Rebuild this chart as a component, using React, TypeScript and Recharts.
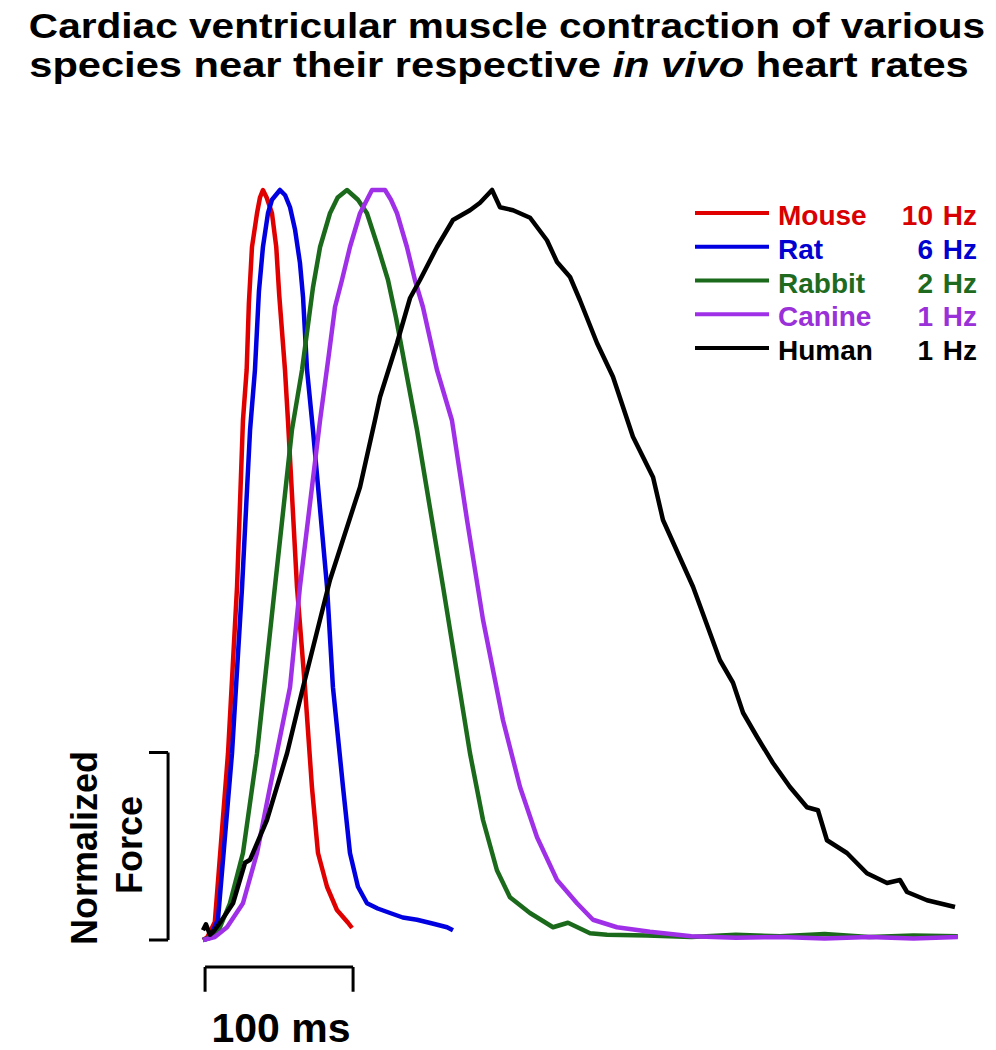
import React from "react";
import { LineChart, Line, XAxis, YAxis, ReferenceLine } from "recharts";

// time in ms from stimulus, force normalized to peak
const mouse = [
  { t: 0, f: 0 }, { t: 3, f: 0.004 }, { t: 8, f: 0.024 }, { t: 16.9, f: 0.249 }, { t: 23, f: 0.471 },
  { t: 27, f: 0.693 }, { t: 29.5, f: 0.76 }, { t: 31, f: 0.849 }, { t: 33.1, f: 0.924 }, { t: 36.5, f: 0.969 },
  { t: 38.5, f: 0.99 }, { t: 40.5, f: 1 }, { t: 43, f: 0.99 }, { t: 46.6, f: 0.969 }, { t: 49.5, f: 0.924 },
  { t: 51.5, f: 0.86 }, { t: 55.4, f: 0.76 }, { t: 57.4, f: 0.693 }, { t: 63.5, f: 0.471 }, { t: 68.9, f: 0.337 },
  { t: 73.6, f: 0.204 }, { t: 77.7, f: 0.116 }, { t: 83.8, f: 0.071 }, { t: 90.5, f: 0.04 }, { t: 98, f: 0.023 },
  { t: 100.7, f: 0.016 },
];

const rat = [
  { t: 0, f: 0 }, { t: 4.7, f: 0.003 }, { t: 10.1, f: 0.027 }, { t: 19.6, f: 0.249 }, { t: 26.4, f: 0.471 },
  { t: 31.8, f: 0.68 }, { t: 35.1, f: 0.76 }, { t: 37.8, f: 0.865 }, { t: 40.5, f: 0.924 }, { t: 43.9, f: 0.969 },
  { t: 46.6, f: 0.987 }, { t: 52, f: 1 }, { t: 55.5, f: 0.993 }, { t: 58.8, f: 0.977 }, { t: 62.2, f: 0.947 },
  { t: 65.5, f: 0.903 }, { t: 67.6, f: 0.857 }, { t: 70.3, f: 0.76 }, { t: 74.3, f: 0.68 }, { t: 83.8, f: 0.471 },
  { t: 87.8, f: 0.337 }, { t: 94.6, f: 0.204 }, { t: 99.3, f: 0.116 }, { t: 104.7, f: 0.071 }, { t: 110.8, f: 0.049 },
  { t: 118, f: 0.042 }, { t: 126.4, f: 0.036 }, { t: 135, f: 0.03 }, { t: 144.6, f: 0.027 }, { t: 155, f: 0.022 },
  { t: 164.9, f: 0.017 }, { t: 168.9, f: 0.013 },
];

const rabbit = [
  { t: 0, f: 0 }, { t: 6.1, f: 0.004 }, { t: 11.5, f: 0.017 }, { t: 18.2, f: 0.049 }, { t: 27, f: 0.116 },
  { t: 36.5, f: 0.249 }, { t: 48.6, f: 0.471 }, { t: 60.1, f: 0.68 }, { t: 66.9, f: 0.76 }, { t: 74.3, f: 0.87 },
  { t: 79.1, f: 0.924 }, { t: 85.8, f: 0.969 }, { t: 91, f: 0.99 }, { t: 97.3, f: 1 }, { t: 104.7, f: 0.987 },
  { t: 110.8, f: 0.969 }, { t: 118.2, f: 0.924 }, { t: 125, f: 0.88 }, { t: 130.4, f: 0.83 }, { t: 137, f: 0.76 },
  { t: 144.6, f: 0.68 }, { t: 162.2, f: 0.471 }, { t: 180.4, f: 0.249 }, { t: 189.2, f: 0.16 }, { t: 198.6, f: 0.093 },
  { t: 207.4, f: 0.057 }, { t: 220.9, f: 0.036 }, { t: 236.5, f: 0.017 }, { t: 246.6, f: 0.023 }, { t: 261.5, f: 0.009 },
  { t: 273, f: 0.007 }, { t: 300, f: 0.006 }, { t: 330, f: 0.004 }, { t: 360, f: 0.007 }, { t: 390, f: 0.005 },
  { t: 420, f: 0.008 }, { t: 450, f: 0.004 }, { t: 480, f: 0.006 }, { t: 510, f: 0.005 },
];

const canine = [
  { t: 0, f: 0 }, { t: 8, f: 0.004 }, { t: 16.2, f: 0.017 }, { t: 27, f: 0.049 }, { t: 36.5, f: 0.116 },
  { t: 45.3, f: 0.204 }, { t: 58.8, f: 0.337 }, { t: 65.5, f: 0.471 }, { t: 79.1, f: 0.693 }, { t: 85, f: 0.78 },
  { t: 89.2, f: 0.844 }, { t: 93.9, f: 0.88 }, { t: 99.3, f: 0.924 }, { t: 106.1, f: 0.969 }, { t: 110.8, f: 0.987 },
  { t: 114.2, f: 1 }, { t: 123, f: 1 }, { t: 127, f: 0.987 }, { t: 131.1, f: 0.969 }, { t: 137.8, f: 0.924 },
  { t: 143.2, f: 0.88 }, { t: 148.6, f: 0.844 }, { t: 158.1, f: 0.76 }, { t: 168.2, f: 0.693 }, { t: 178.4, f: 0.56 },
  { t: 189.2, f: 0.427 }, { t: 202.7, f: 0.293 }, { t: 214.2, f: 0.204 }, { t: 225.7, f: 0.137 }, { t: 239.2, f: 0.08 },
  { t: 252.7, f: 0.049 }, { t: 263.5, f: 0.027 }, { t: 279.7, f: 0.017 }, { t: 302, f: 0.011 }, { t: 330, f: 0.005 },
  { t: 360, f: 0.003 }, { t: 390, f: 0.004 }, { t: 420, f: 0.002 }, { t: 450, f: 0.004 }, { t: 480, f: 0.002 },
  { t: 510, f: 0.004 },
];

const human = [
  { t: 0, f: 0.013 }, { t: 2, f: 0.021 }, { t: 4.7, f: 0.007 }, { t: 7.4, f: 0.012 }, { t: 11.5, f: 0.023 },
  { t: 20.3, f: 0.049 }, { t: 28.4, f: 0.103 }, { t: 31.8, f: 0.107 }, { t: 43.2, f: 0.16 }, { t: 56.8, f: 0.249 },
  { t: 67.6, f: 0.337 }, { t: 85.8, f: 0.48 }, { t: 106.1, f: 0.604 }, { t: 116.2, f: 0.693 }, { t: 119.6, f: 0.724 },
  { t: 131.1, f: 0.796 }, { t: 139.9, f: 0.856 }, { t: 146.6, f: 0.88 }, { t: 158.1, f: 0.924 }, { t: 168.9, f: 0.96 },
  { t: 180.4, f: 0.973 }, { t: 187.2, f: 0.983 }, { t: 195.3, f: 1 }, { t: 200.7, f: 0.977 }, { t: 209.5, f: 0.973 },
  { t: 221, f: 0.963 }, { t: 232.4, f: 0.933 }, { t: 239.2, f: 0.904 }, { t: 248, f: 0.884 }, { t: 254.7, f: 0.853 },
  { t: 266.2, f: 0.796 }, { t: 277, f: 0.751 }, { t: 290.5, f: 0.671 }, { t: 304.1, f: 0.617 }, { t: 310.8, f: 0.56 },
  { t: 331.1, f: 0.471 }, { t: 349.3, f: 0.373 }, { t: 358.1, f: 0.343 }, { t: 364.9, f: 0.303 }, { t: 374.3, f: 0.271 },
  { t: 385.1, f: 0.236 }, { t: 396.6, f: 0.204 }, { t: 408.1, f: 0.177 }, { t: 415.5, f: 0.173 }, { t: 421.6, f: 0.133 },
  { t: 435.1, f: 0.116 }, { t: 448.6, f: 0.089 }, { t: 462.2, f: 0.076 }, { t: 470.9, f: 0.08 }, { t: 475.7, f: 0.064 },
  { t: 489.2, f: 0.053 }, { t: 508.1, f: 0.044 },
];

const names = ["Mouse", "Rat", "Rabbit", "Canine", "Human"];
const rates = ["10", "6", "2", "1", "1"];
const colors = ["#e00000", "#0000e0", "#1b6a1b", "#a030e8", "#000000"];
const textColors = ["#d80000", "#0000d0", "#1e6a1e", "#9a30d8", "#000000"];
const series = [mouse, rat, rabbit, canine, human];

const W = 996;
const H = 1050;
const PX_PER_MS = 1.48;
const ORIGIN_X = 203;
const BASE_Y = 940;
const PX_PER_UNIT = 750;
const X_MIN = -ORIGIN_X / PX_PER_MS;
const X_MAX = X_MIN + W / PX_PER_MS;
const Y_MIN = -(H - BASE_Y) / PX_PER_UNIT;
const Y_MAX = Y_MIN + H / PX_PER_UNIT;

// scale bars
const TIME_BAR_START = 1.4;
const TIME_BAR_MS = 100;
const TIME_BAR_Y = -0.036;
const TIME_BAR_TICK = -0.069;
const FORCE_BAR_T = -23.6;
const FORCE_BAR_TICK_T = -36.5;
const FORCE_BAR_SIZE = 0.25;

const font = "'Liberation Sans', Arial, sans-serif";

export default function App() {
  const bar = { stroke: "#000", strokeWidth: 3, ifOverflow: "visible" as const };
  return (
    <div style={{ position: "absolute", left: 0, top: 0, width: W, height: H, background: "#fff" }}>
      <LineChart width={W} height={H} margin={{ top: 0, right: 0, bottom: 0, left: 0 }}>
        <XAxis dataKey="t" type="number" domain={[X_MIN, X_MAX]} allowDataOverflow hide />
        <YAxis type="number" domain={[Y_MIN, Y_MAX]} allowDataOverflow hide />
        <ReferenceLine segment={[{ x: TIME_BAR_START, y: TIME_BAR_Y }, { x: TIME_BAR_START + TIME_BAR_MS, y: TIME_BAR_Y }]} {...bar} />
        <ReferenceLine segment={[{ x: TIME_BAR_START, y: TIME_BAR_Y }, { x: TIME_BAR_START, y: TIME_BAR_TICK }]} {...bar} />
        <ReferenceLine segment={[{ x: TIME_BAR_START + TIME_BAR_MS, y: TIME_BAR_Y }, { x: TIME_BAR_START + TIME_BAR_MS, y: TIME_BAR_TICK }]} {...bar} />
        <ReferenceLine segment={[{ x: FORCE_BAR_T, y: 0 }, { x: FORCE_BAR_T, y: FORCE_BAR_SIZE }]} {...bar} />
        <ReferenceLine segment={[{ x: FORCE_BAR_TICK_T, y: 0 }, { x: FORCE_BAR_T, y: 0 }]} {...bar} />
        <ReferenceLine segment={[{ x: FORCE_BAR_TICK_T, y: FORCE_BAR_SIZE }, { x: FORCE_BAR_T, y: FORCE_BAR_SIZE }]} {...bar} />
        {series.map((d, i) => (
          <Line
            key={names[i]}
            data={d}
            dataKey="f"
            name={names[i]}
            type="linear"
            stroke={colors[i]}
            strokeWidth={4.5}
            strokeLinejoin="round"
            dot={false}
            activeDot={false}
            isAnimationActive={false}
          />
        ))}
      </LineChart>
      <svg width={W} height={H} style={{ position: "absolute", left: 0, top: 0, pointerEvents: "none" }}>
        <g fontFamily={font} fontWeight="bold" fill="#000">
          <text transform="translate(507,38) scale(1.16,1)" fontSize={35} textAnchor="middle">
            Cardiac ventricular muscle contraction of various
          </text>
          <text transform="translate(499,77) scale(1.19,1)" fontSize={35} textAnchor="middle">
            species near their respective <tspan fontStyle="italic">in vivo</tspan> heart rates
          </text>
          <text transform="translate(97,848) rotate(-90)" fontSize={36} textAnchor="middle">Normalized</text>
          <text transform="translate(142,845) rotate(-90)" fontSize={36} textAnchor="middle">Force</text>
          <text x={281} y={1042} fontSize={41} textAnchor="middle">100 ms</text>
        </g>
        {names.map((n, i) => {
          const y = 213 + i * 33.75;
          return (
            <g key={n} fontFamily={font} fontWeight="bold" fontSize={28} fill={textColors[i]}>
              <line x1={695} x2={769} y1={y} y2={y} stroke={colors[i]} strokeWidth={4} />
              <text x={778} y={y + 12}>{n}</text>
              <text x={933} y={y + 12} textAnchor="end">{rates[i]}</text>
              <text x={977} y={y + 12} textAnchor="end">Hz</text>
            </g>
          );
        })}
      </svg>
    </div>
  );
}
